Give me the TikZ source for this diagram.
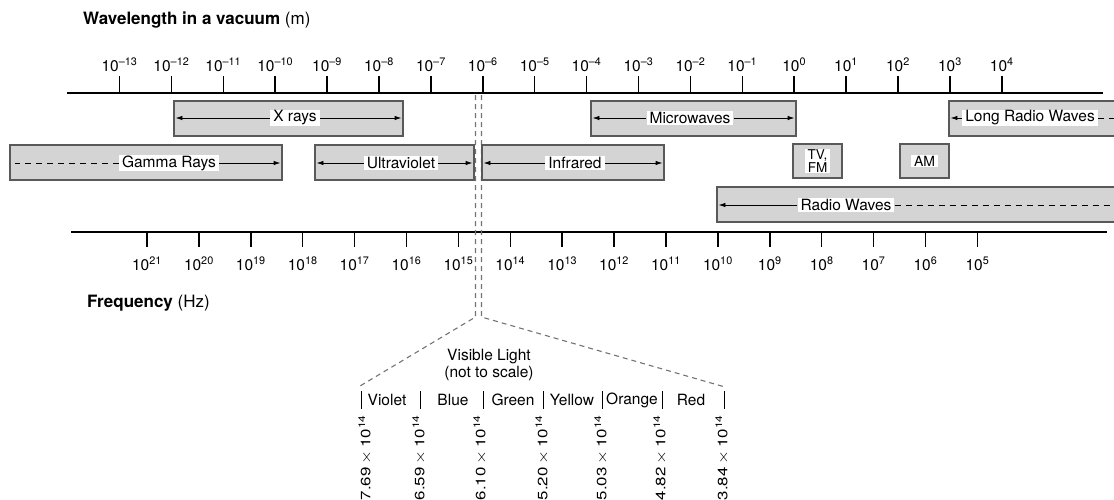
\documentclass[tikz,border=0pt]{standalone}
\usepackage{fontspec}
\setmainfont{TeX Gyre Heros}
\usetikzlibrary{arrows,arrows.meta}

\newcommand{\pw}[1]{10\textsuperscript{\ifnum#1<0 \char"2013\relax\number\numexpr0-(#1)\relax\else#1\fi}}

\begin{document}
\begin{tikzpicture}[x=1pt,y=-1pt,
  font=\fontsize{15.5}{17}\selectfont,
  band/.style={draw=black!65,fill=black!17,line width=1.1pt,inner sep=0pt},
  lbl/.style={fill=white,inner xsep=3pt,inner ysep=1pt},
  axis/.style={line width=1.8pt},
  tick/.style={line width=1.5pt},
  arr/.style={-{Latex[length=7pt,width=4.5pt]},line width=0.9pt,shorten >=2pt},
  dsh/.style={line width=0.9pt,dash pattern=on 6pt off 5pt,shorten >=6pt},
  guide/.style={draw=black!55,line width=1.1pt,dash pattern=on 5pt off 4pt},
  ttl/.style={anchor=west,inner sep=0pt,font=\fontsize{17}{19}\selectfont}]

  \useasboundingbox (0,0) rectangle (1114,499);

  % wavelength axis
  \node[ttl] (wl) at (83,20) {\textbf{Wavelength in a vacuum} (m)};
  \coordinate (wa) at (67,93);
  \coordinate (wb) at (1103,93);
  \draw[axis] (wa) -- (wb);
  \foreach \e in {-13,...,4}{
    \pgfmathsetmacro\tx{119.5+(\e+13)*51.9}
    \draw[tick] (\tx,76) -- (\tx,93);
    \node[anchor=base,font=\fontsize{15.5}{17}\selectfont] (w\e) at (\tx,71) {\pw{\e}};
  }

  % frequency axis
  \coordinate (fa) at (71,232);
  \coordinate (fb) at (1107,232);
  \draw[axis] (fa) -- (fb);
  \foreach \e in {21,20,...,5}{
    \pgfmathsetmacro\tx{147+(21-\e)*51.9}
    \draw[tick] (\tx,232) -- (\tx,247);
    \node[anchor=base,font=\fontsize{15.5}{17}\selectfont] (h\e) at (\tx,270) {\pw{\e}};
  }
  \node[ttl] (fq) at (87,303) {\textbf{Frequency} (Hz)};

  % visible light guides
  \coordinate (vlt) at (475.5,95);
  \coordinate (vrt) at (481.5,95);
  \coordinate (vl) at (475.5,317);
  \coordinate (vr) at (481.5,317);
  \coordinate (vll) at (360,386);
  \coordinate (vrr) at (725,387);
  \draw[guide] (vlt) -- (vl) -- (vll);
  \draw[guide] (vrt) -- (vr) -- (vrr);

  % bands
  \node[band,minimum width=229,minimum height=35] (xr) at (288.5,118.5) {};
  \node[band,minimum width=205,minimum height=35] (mw) at (693.5,118.5) {};
  \node[band,minimum width=170,minimum height=35] (lr) at (1034,118.5) {};
  \node[band,minimum width=272,minimum height=35] (gm) at (146,162.5) {};
  \node[band,minimum width=159,minimum height=35] (uv) at (394.5,162.5) {};
  \node[band,minimum width=182,minimum height=35] (ir) at (573,162.5) {};
  \node[band,minimum width=49,minimum height=34] (tv) at (817.5,161) {};
  \node[band,minimum width=49,minimum height=34] (am) at (924.5,161) {};
  \node[band,minimum width=403,minimum height=35] (rw) at (918.5,204.5) {};

  \node[lbl] (xrt) at (295,118) {X rays};
  \node[lbl] (mwt) at (690,118) {Microwaves};
  \node[lbl] (lrt) at (1030,118) {Long Radio Waves};
  \node[lbl] (gmt) at (169,163) {Gamma Rays};
  \node[lbl] (uvt) at (401,163) {Ultraviolet};
  \node[lbl] (irt) at (575,163) {Infrared};
  \node[lbl,align=center,inner ysep=0.5pt,font=\fontsize{13.5}{11.5}\selectfont] (tvt) at (tv) {TV,\\FM};
  \node[lbl,font=\fontsize{14}{16}\selectfont] (amt) at (am) {AM};
  \node[lbl] (rwt) at (846,205) {Radio Waves};

  \path[arr] (xrt) edge (xr.west |- xrt) edge (xr.east |- xrt)
    (mwt) edge (mw.west |- mwt) edge (mw.east |- mwt)
    (lrt) edge (lr.west |- lrt)
    (gmt) edge (gm.east |- gmt)
    (uvt) edge (uv.west |- uvt) edge (uv.east |- uvt)
    (irt) edge (ir.west |- irt) edge (ir.east |- irt)
    (rwt) edge (rw.west |- rwt);
  \path[dsh] (gmt) edge (gm.west |- gmt)
    (lrt) edge (lr.east |- lrt)
    (rwt) edge (rw.east |- rwt);

  % visible light detail
  \node[align=center] (vis) at (489,365) {Visible Light\\(not to scale)};
  \foreach \bx [count=\k] in {361,420,483,543,602,662,724}
    \draw[line width=1pt] (\bx,391) -- (\bx,409);
  \foreach \cx/\cn in {387/Violet,453/Blue,513/Green,572/Yellow,632/Orange,691/Red}
    \node (\cn) at (\cx,400) {\cn};
  \foreach \vx/\vv [count=\k] in {365/7.69,419/6.59,480/6.10,542/5.20,601/5.03,660/4.82,722/3.84}
    \node[rotate=90,anchor=east,inner sep=0pt,font=\fontsize{13.5}{15}\selectfont] (v\k) at (\vx,415)
      {\scalebox{1.25}[1]{\vv{}\,$\times$\,\pw{14}}};
\end{tikzpicture}
\end{document}
